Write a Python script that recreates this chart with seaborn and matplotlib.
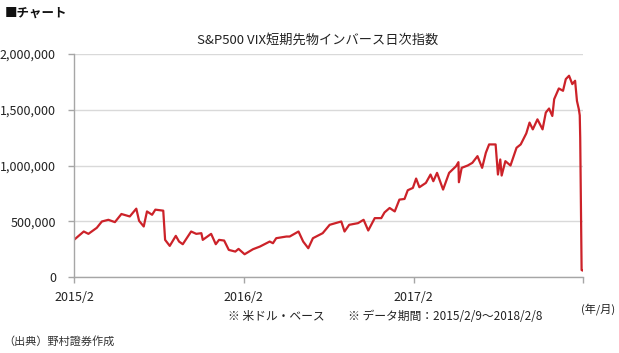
import matplotlib
matplotlib.use("Agg")
import matplotlib.pyplot as plt
import matplotlib.ticker as mticker
import seaborn as sns
import pandas as pd

# S&P500 VIX短期先物インバース日次指数 (読み取り値)
dates = [
    "2015-02-09", "2015-03-02", "2015-03-12", "2015-03-30", "2015-04-10", "2015-04-24",
    "2015-05-08", "2015-05-22", "2015-06-09", "2015-06-23", "2015-06-29", "2015-07-09",
    "2015-07-16", "2015-07-27", "2015-08-03", "2015-08-20", "2015-08-24", "2015-09-03",
    "2015-09-16", "2015-09-23", "2015-10-01", "2015-10-19", "2015-10-30", "2015-11-10",
    "2015-11-13", "2015-12-01", "2015-12-11", "2015-12-18", "2015-12-29", "2016-01-08",
    "2016-01-22", "2016-01-29", "2016-02-11", "2016-02-29", "2016-03-15", "2016-04-05",
    "2016-04-12", "2016-04-19", "2016-05-11", "2016-05-18", "2016-06-06", "2016-06-16",
    "2016-06-27", "2016-07-07", "2016-07-28", "2016-08-12", "2016-09-06", "2016-09-13",
    "2016-09-23", "2016-10-12", "2016-10-24", "2016-11-03", "2016-11-17", "2016-12-01",
    "2016-12-08", "2016-12-19", "2016-12-30", "2017-01-09", "2017-01-20", "2017-01-27",
    "2017-02-07", "2017-02-14", "2017-02-21", "2017-03-07", "2017-03-17", "2017-03-23",
    "2017-03-31", "2017-04-13", "2017-04-26", "2017-05-11", "2017-05-16", "2017-05-17",
    "2017-05-23", "2017-06-05", "2017-06-15", "2017-06-26", "2017-07-06", "2017-07-14",
    "2017-07-21", "2017-08-04", "2017-08-09", "2017-08-14", "2017-08-17", "2017-08-25",
    "2017-09-05", "2017-09-18", "2017-09-27", "2017-10-09", "2017-10-16", "2017-10-23",
    "2017-11-02", "2017-11-13", "2017-11-20", "2017-11-27", "2017-12-04", "2017-12-08",
    "2017-12-18", "2017-12-27", "2018-01-02", "2018-01-09", "2018-01-16", "2018-01-22",
    "2018-01-26", "2018-01-30", "2018-02-01", "2018-02-02", "2018-02-05", "2018-02-06",
    "2018-02-08",
]
values = [
    333000, 408000, 387000, 441000, 498000, 513000,
    492000, 565000, 543000, 613000, 504000, 453000,
    588000, 558000, 604000, 595000, 333000, 279000,
    369000, 318000, 294000, 408000, 387000, 393000,
    333000, 387000, 294000, 333000, 327000, 243000,
    228000, 252000, 204000, 249000, 273000, 318000,
    303000, 348000, 363000, 363000, 408000, 318000,
    258000, 348000, 393000, 468000, 498000, 408000,
    468000, 483000, 513000, 417000, 528000, 528000,
    579000, 619000, 588000, 694000, 700000, 778000,
    799000, 883000, 805000, 844000, 919000, 859000,
    934000, 784000, 934000, 994000, 1030000, 850000,
    979000, 1000000, 1024000, 1084000, 979000, 1114000,
    1189000, 1189000, 919000, 1054000, 910000, 1039000,
    1000000, 1159000, 1189000, 1288000, 1385000, 1324000,
    1414000, 1324000, 1475000, 1511000, 1444000, 1595000,
    1691000, 1670000, 1775000, 1805000, 1730000, 1760000,
    1579000, 1505000, 1450000, 1250000, 63000, 60000,
    57000,
]

xtick_dates = ["2015-02-09", "2016-02-09", "2017-02-09", "2018-02-08"]
xtick_labels = ["2015/2", "2016/2", "2017/2", ""]
ytick_values = [0, 500000, 1000000, 1500000, 2000000]

df = pd.DataFrame({"date": pd.to_datetime(dates), "value": values})

sns.set_theme(style="white")
plt.rcParams["font.family"] = ["Noto Sans CJK JP", "DejaVu Sans"]

fig = plt.figure(figsize=(6.19, 3.53), dpi=100)
ax = fig.add_axes([74 / 619, 1 - 277 / 353, (583 - 74) / 619, (277 - 54) / 353])

sns.lineplot(data=df, x="date", y="value", ax=ax, color="#CC2229", linewidth=1.6)

ax.set_xlim(pd.Timestamp("2015-02-09"), pd.Timestamp("2018-02-08"))
ax.set_ylim(0, 2000000)
ax.set_xticks(pd.to_datetime(xtick_dates))
ax.set_xticklabels(xtick_labels)
ax.set_yticks(ytick_values)
ax.yaxis.set_major_formatter(mticker.FuncFormatter(lambda v, p: f"{int(v):,}"))
ax.set_xlabel("")
ax.set_ylabel("")

ax.grid(axis="y", color="#d9d9d9", linewidth=1.0)
ax.grid(axis="x", visible=False)
for s in ["top", "right"]:
    ax.spines[s].set_visible(False)
for s in ["left", "bottom"]:
    ax.spines[s].set_color("#a6a6a6")
    ax.spines[s].set_linewidth(1.0)
ax.tick_params(axis="y", which="both", left=True, length=4, width=1, color="#a6a6a6",
               pad=9, labelsize=9, labelcolor="#222222")
ax.tick_params(axis="x", which="both", bottom=True, length=4, width=1, color="#a6a6a6",
               pad=6, labelsize=9, labelcolor="#222222")

fig.text(5 / 619, 1 - 13 / 353, "■チャート", fontsize=9, fontweight="bold",
         color="#111111", ha="left", va="center")
fig.text(318 / 619, 1 - 40 / 353, "S&P500 VIX短期先物インバース日次指数", fontsize=9.5,
         color="#222222", ha="center", va="center")
fig.text(615 / 619, 1 - 309 / 353, "(年/月)", fontsize=8, color="#222222",
         ha="right", va="center")
fig.text(228 / 619, 1 - 317 / 353, "※ 米ドル・ベース　　※ データ期間：2015/2/9～2018/2/8",
         fontsize=8.5, color="#222222", ha="left", va="center")
fig.text(3 / 619, 1 - 341 / 353, "（出典）野村證券作成", fontsize=8, color="#333333",
         ha="left", va="center")

fig.savefig("out.png", dpi=100, facecolor="white")
